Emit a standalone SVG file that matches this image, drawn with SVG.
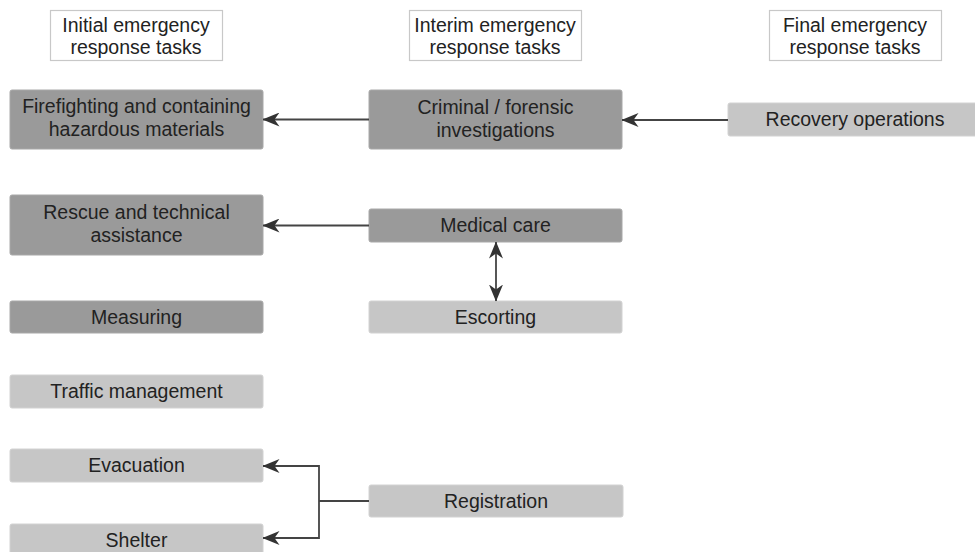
<svg xmlns="http://www.w3.org/2000/svg" width="975" height="552" viewBox="0 0 975 552">
<style>
text{font-family:"Liberation Sans",Arial,sans-serif;font-size:19.5px;fill:#222;text-anchor:middle}
.hdr{fill:#fff;stroke:#c8c8c8;stroke-width:1.2}
.dark{fill:#9a9a9a;stroke:#a8a8a8;stroke-width:1}
.light{fill:#c6c6c6;stroke:#d2d2d2;stroke-width:1}
.con{fill:none;stroke:#444;stroke-width:1.8}
</style>
<defs>
<marker id="ah" viewBox="0 0 17 14" refX="16.5" refY="7" markerWidth="17" markerHeight="14" markerUnits="userSpaceOnUse" orient="auto-start-reverse">
<path d="M0,0 L17,7 L0,14 L5,7 z" fill="#333"/>
</marker>
</defs>
<rect width="975" height="552" fill="#fff"/>
<g id="hdr-initial"><rect class="hdr" x="50.5" y="10.5" width="172" height="50"/><text x="136" y="32">Initial emergency</text><text x="136" y="54">response tasks</text></g>
<g id="hdr-interim"><rect class="hdr" x="409.5" y="10.5" width="172" height="50"/><text x="495" y="32">Interim emergency</text><text x="495" y="54">response tasks</text></g>
<g id="hdr-final"><rect class="hdr" x="769.5" y="10.5" width="172" height="50"/><text x="855" y="32">Final emergency</text><text x="855" y="54">response tasks</text></g>

<g id="firefighting"><rect class="dark" x="10" y="90" width="253" height="59" rx="2"/><text x="136.5" y="113">Firefighting and containing</text><text x="136.5" y="136">hazardous materials</text></g>
<g id="rescue"><rect class="dark" x="10" y="195" width="253" height="60" rx="2"/><text x="136.5" y="219">Rescue and technical</text><text x="136.5" y="242">assistance</text></g>
<g id="measuring"><rect class="dark" x="10" y="301" width="253" height="32" rx="2"/><text x="136.5" y="324">Measuring</text></g>
<g id="traffic"><rect class="light" x="10" y="375" width="253" height="33" rx="2"/><text x="136.5" y="398">Traffic management</text></g>
<g id="evacuation"><rect class="light" x="10" y="449" width="253" height="33" rx="2"/><text x="136.5" y="472">Evacuation</text></g>
<g id="shelter"><rect class="light" x="10" y="524" width="253" height="33" rx="2"/><text x="136.5" y="547">Shelter</text></g>

<g id="criminal"><rect class="dark" x="369" y="90" width="253" height="59" rx="2"/><text x="495.5" y="114">Criminal / forensic</text><text x="495.5" y="137">investigations</text></g>
<g id="medical"><rect class="dark" x="369" y="209" width="253" height="33" rx="2"/><text x="495.5" y="232">Medical care</text></g>
<g id="escorting"><rect class="light" x="369" y="301" width="253" height="32" rx="2"/><text x="495.5" y="324">Escorting</text></g>
<g id="registration"><rect class="light" x="369" y="485" width="254" height="32" rx="2"/><text x="496" y="508">Registration</text></g>

<g id="recovery"><rect class="light" x="728" y="103" width="250" height="33" rx="2"/><text x="855" y="126">Recovery operations</text></g>

<g id="connectors">
<line class="con" x1="369" y1="119.5" x2="263" y2="119.5" marker-end="url(#ah)"/>
<line class="con" x1="728" y1="120" x2="622" y2="120" marker-end="url(#ah)"/>
<line class="con" x1="369" y1="225.5" x2="263" y2="225.5" marker-end="url(#ah)"/>
<line class="con" x1="496" y1="242" x2="496" y2="301" marker-start="url(#ah)" marker-end="url(#ah)"/>
<line class="con" x1="369" y1="501" x2="319" y2="501"/>
<polyline class="con" points="319,501 319,466 263,466" marker-end="url(#ah)"/>
<polyline class="con" points="319,501 319,538 263,538" marker-end="url(#ah)"/>
</g>
</svg>
